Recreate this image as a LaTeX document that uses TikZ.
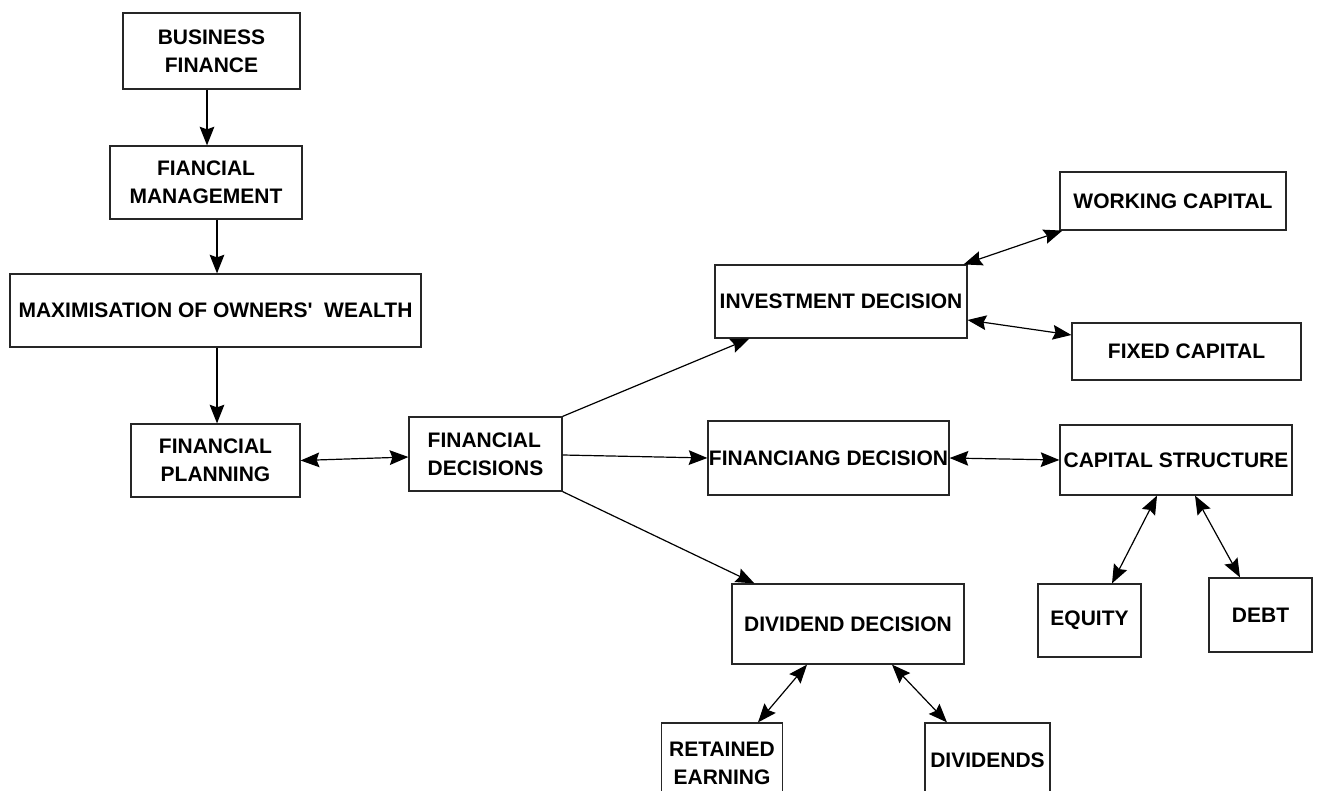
\documentclass[tikz,border=0pt]{standalone}
\usepackage{fontspec}
\setmainfont{Liberation Sans}
\usepackage{tikz}
\usetikzlibrary{calc,arrows.meta,positioning}

\begin{document}
\begin{tikzpicture}[x=0.75pt,y=-0.75pt]

\tikzset{inner sep=0pt,
fbox/.style={draw=black!85,line width=0.9pt,align=center,font=\bfseries\fontsize{15.75}{21}\selectfont},
flow/.style={->,>={Stealth[length=14pt,width=11pt,inset=2pt]},line width=0.9pt},
link/.style={<->,>={Stealth[length=14pt,width=11pt,inset=2pt]},line width=0.9pt}}

\path[use as bounding box,clip] (0,0) rectangle (1320,791);

% Left column
\node[fbox,minimum width=132.75pt,minimum height=57pt] (busfin) at (211.5,51) {BUSINESS\\FINANCE};
\node[fbox,minimum width=144pt,minimum height=54.75pt] (finman) at (206,182.5) {FIANCIAL\\MANAGEMENT};
\node[fbox,minimum width=308.25pt,minimum height=54.75pt] (maxwealth) at (215.5,310.5) {MAXIMISATION OF OWNERS\textquotesingle{} \ WEALTH};
\node[fbox,minimum width=126.75pt,minimum height=54.75pt] (finplan) at (215.5,460.5) {FINANCIAL\\PLANNING};
\node[fbox,align=left,minimum width=114.75pt,minimum height=55.5pt] (findec) at (485.5,454) {FINANCIAL\\DECISIONS};

% Decisions
\node[fbox,minimum width=189pt,minimum height=54.75pt] (invdec) at (841,301.5) {INVESTMENT DECISION};
\node[fbox,minimum width=180.75pt,minimum height=55.5pt] (fingdec) at (828.5,458) {FINANCIANG DECISION};
\node[fbox,minimum width=174pt,minimum height=60pt] (divdec) at (848,624) {DIVIDEND DECISION};

% Right side
\node[fbox,minimum width=169.5pt,minimum height=43.5pt] (workcap) at (1173,201) {WORKING CAPITAL};
\node[fbox,minimum width=171.75pt,minimum height=42.75pt] (fixcap) at (1186.5,351.5) {FIXED CAPITAL};
\node[fbox,minimum width=174pt,minimum height=52.5pt] (capstr) at (1176,460) {CAPITAL STRUCTURE};
\node[fbox,minimum width=77.25pt,minimum height=54.75pt] (equity) at (1089.5,620.5) {EQUITY};
\node[fbox,minimum width=77.25pt,minimum height=55.5pt] (debt) at (1260.5,615) {DEBT};

% Bottom
\node[fbox,minimum width=90.75pt,minimum height=60pt] (retearn) at (722,763) {RETAINED\\EARNING};
\node[fbox,minimum width=93.75pt,minimum height=55.5pt] (dividends) at (987.5,760) {DIVIDENDS};

% Arrows
\draw[flow] ($(busfin.south)+(-4.5,0)$) -- ($(finman.north)+(1,0)$);
\draw[flow] ($(finman.south)+(11,0)$) -- ($(maxwealth.north)+(1.5,0)$);
\draw[flow] ($(maxwealth.south)+(1.5,0)$) -- ($(finplan.north)+(1.5,0)$);
\draw[link] (finplan.east) -- ($(findec.west)+(0,3)$);

\draw[flow] (findec.north east) -- ($(invdec.south west)+(35,0)$);
\draw[flow] ($(findec.east)+(0,1)$) -- (fingdec.west);
\draw[flow] (findec.south east) -- ($(divdec.north west)+(23,0)$);

\draw[link] ($(invdec.north east)+(-4,0)$) -- ($(workcap.south west)+(3,0)$);
\draw[link] ($(invdec.east)+(0,18.5)$) -- ($(fixcap.west)+(0,-16.5)$);
\draw[link] (fingdec.east) -- (capstr.west);

\draw[link] ($(capstr.south)+(-19,0)$) -- ($(equity.north)+(22.5,0)$);
\draw[link] ($(capstr.south)+(19,0)$) -- ($(debt.north)+(-20.5,0)$);
\draw[link] ($(divdec.south)+(-41,0)$) -- ($(retearn.north)+(36,0)$);
\draw[link] ($(divdec.south)+(44,0)$) -- ($(dividends.north)+(-40.5,0)$);

\end{tikzpicture}
\end{document}
